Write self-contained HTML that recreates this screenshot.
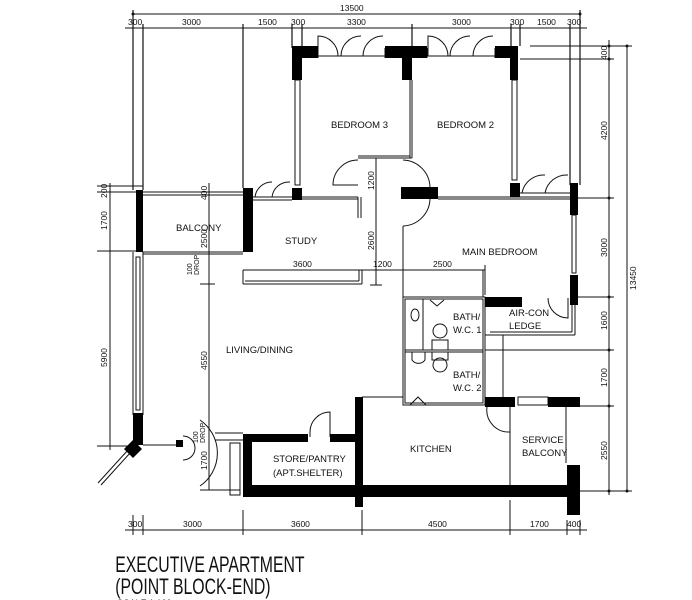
<!DOCTYPE html>
<html><head><meta charset="utf-8"><style>
html,body{margin:0;padding:0;background:#fff;width:692px;height:600px;overflow:hidden}
svg text{font-family:"Liberation Sans",sans-serif;fill:#111}
</style></head><body>
<svg width="692" height="600" viewBox="0 0 692 600" xmlns="http://www.w3.org/2000/svg">
<g stroke="#111" stroke-width="1" fill="none">
<line x1="133" y1="14" x2="580" y2="14"/>
<line x1="125" y1="28" x2="587" y2="28"/>
<g stroke-width="1.2">
<line x1="133" y1="10" x2="133" y2="190"/><line x1="143" y1="24" x2="143" y2="190"/>
<line x1="243" y1="24" x2="243" y2="188"/><line x1="292" y1="24" x2="292" y2="48"/>
<line x1="302" y1="24" x2="302" y2="48"/><line x1="412" y1="24" x2="412" y2="46"/>
<line x1="511" y1="24" x2="511" y2="46"/><line x1="520" y1="24" x2="520" y2="46"/>
<line x1="570" y1="24" x2="570" y2="185"/><line x1="580" y1="10" x2="580" y2="185"/>
</g>
<line x1="609" y1="40" x2="609" y2="495"/>
<line x1="627" y1="46" x2="627" y2="491"/>
<line x1="530" y1="46" x2="632" y2="46"/><line x1="520" y1="59" x2="614" y2="59"/>
<line x1="578" y1="198" x2="614" y2="198"/><line x1="578" y1="297" x2="614" y2="297"/>
<line x1="485" y1="350" x2="614" y2="350"/><line x1="580" y1="406" x2="614" y2="406"/>
<line x1="580" y1="491" x2="632" y2="491"/>
<line x1="110" y1="183" x2="110" y2="450"/>
<line x1="97" y1="186" x2="143" y2="186"/><line x1="97" y1="192" x2="245" y2="192"/>
<line x1="97" y1="251" x2="136" y2="251"/><line x1="97" y1="446" x2="133" y2="446"/>
<line x1="209" y1="183" x2="209" y2="490"/>
<line x1="200" y1="284" x2="215" y2="284"/><line x1="200" y1="490" x2="240" y2="490"/>
<line x1="125" y1="530" x2="587" y2="530"/>
<line x1="133" y1="515" x2="133" y2="535"/><line x1="143" y1="515" x2="143" y2="535"/>
<line x1="243" y1="510" x2="243" y2="535"/><line x1="362" y1="510" x2="362" y2="535"/>
<line x1="510" y1="500" x2="510" y2="535"/><line x1="567" y1="520" x2="567" y2="535"/>
<line x1="580" y1="520" x2="580" y2="535"/>
<line x1="376" y1="158" x2="376" y2="285"/><line x1="243" y1="270" x2="485" y2="270"/>
<line x1="370" y1="285" x2="382" y2="285"/><line x1="485" y1="265" x2="485" y2="295"/>
<line x1="143" y1="195" x2="243" y2="195"/><line x1="143" y1="252" x2="243" y2="252"/>
<line x1="143" y1="254" x2="243" y2="254"/>
<line x1="133" y1="252" x2="133" y2="415"/><line x1="143" y1="252" x2="143" y2="415"/>
<rect x="136" y="257" width="4" height="153"/>
<line x1="128" y1="450" x2="98" y2="483"/><line x1="131" y1="452" x2="101" y2="485"/>
<line x1="143" y1="445" x2="178" y2="445"/>
<path d="M183 436 A12 12 0 0 1 183 460"/><path d="M200 420 A40 40 0 0 1 200 486" />
<line x1="215" y1="433" x2="243" y2="433"/><line x1="215" y1="440" x2="243" y2="440"/>
<rect x="230" y="443" width="10" height="52"/>
<rect x="295" y="80" width="5" height="105"/>
<rect x="512" y="80" width="5" height="100"/>
<line x1="410" y1="80" x2="410" y2="158"/><line x1="412" y1="80" x2="412" y2="158"/>
<line x1="358" y1="158" x2="412" y2="158"/><line x1="358" y1="156" x2="410" y2="156"/>
<path d="M358 160 A25 25 0 0 0 333 185 L358 185"/>
<path d="M403 160 A28 28 0 0 1 430 187"/>
<path d="M403 226 A28 28 0 0 0 430 199"/>
<line x1="318" y1="48" x2="318" y2="58"/><line x1="385" y1="48" x2="385" y2="58"/>
<line x1="318" y1="56" x2="385" y2="56"/>
<path d="M318 56 L318 36 A20 20 0 0 1 338 56 M341 56 A20 20 0 0 1 361 36 M363 56 A20 20 0 0 1 383 36"/>
<line x1="427" y1="56" x2="495" y2="56"/><line x1="427" y1="48" x2="427" y2="58"/><line x1="495" y1="48" x2="495" y2="58"/>
<path d="M428 56 L428 36 A20 20 0 0 1 448 56 M450 56 A20 20 0 0 1 470 36 M473 56 A20 20 0 0 1 493 36"/>
<line x1="520" y1="193" x2="570" y2="193"/><line x1="520" y1="197" x2="570" y2="197"/>
<path d="M522 193 A22 22 0 0 1 545 175 M545 193 A22 22 0 0 1 568 175"/>
<line x1="253" y1="197" x2="292" y2="197"/><line x1="253" y1="200" x2="292" y2="200"/>
<path d="M255 197 A17 17 0 0 1 272 182 M272 197 A17 17 0 0 1 290 182"/>
<line x1="302" y1="197" x2="358" y2="197"/><line x1="302" y1="199" x2="358" y2="199"/>
<line x1="358" y1="197" x2="358" y2="218"/><line x1="361" y1="197" x2="361" y2="218"/>
<line x1="243" y1="270" x2="243" y2="284"/><line x1="243" y1="284" x2="362" y2="284"/>
<line x1="245" y1="281" x2="359" y2="281"/><line x1="359" y1="270" x2="359" y2="281"/><line x1="362" y1="270" x2="362" y2="284"/>
<line x1="438" y1="197" x2="570" y2="197"/><line x1="438" y1="199" x2="570" y2="199"/>
<line x1="403" y1="226" x2="403" y2="297"/>
<rect x="572" y="215" width="4" height="58"/>
<line x1="483" y1="270" x2="483" y2="297"/>
<rect x="403" y="297" width="82" height="108"/>
<rect x="405" y="299" width="78" height="104"/>
<line x1="423" y1="299" x2="423" y2="350"/><line x1="405" y1="350" x2="483" y2="350"/><line x1="405" y1="352" x2="483" y2="352"/>
<ellipse cx="415" cy="315" rx="4" ry="6"/><ellipse cx="440" cy="331" rx="7" ry="7"/><rect x="432" y="340" width="16" height="10"/>
<ellipse cx="440" cy="365" rx="7" ry="7"/><rect x="432" y="352" width="16" height="8"/>
<path d="M412 352 L412 360 A8 8 0 0 0 425 360 L425 352"/>
<path d="M410 405 L418 397 L426 405 M430 300 L437 306 L444 300"/>
<line x1="485" y1="335" x2="575" y2="335"/><line x1="490" y1="332" x2="572" y2="332"/>
<line x1="575" y1="305" x2="575" y2="335"/><line x1="572" y1="305" x2="572" y2="332"/>
<line x1="503" y1="335" x2="503" y2="397"/>
<path d="M568 298 L568 318 A20 20 0 0 1 548 298"/>
<line x1="485" y1="350" x2="580" y2="350"/>
<line x1="362" y1="397" x2="403" y2="397"/>
<path d="M487 407 A22 22 0 0 0 510 432"/>
<line x1="510" y1="407" x2="510" y2="485"/>
<rect x="518" y="397" width="30" height="8"/>
<line x1="566" y1="407" x2="566" y2="463"/>
<path d="M310 437 L310 432 A20 20 0 0 1 330 412 L330 437"/>
</g>
<g fill="#111">
<circle cx="133" cy="14" r="1.5"/><circle cx="580" cy="14" r="1.5"/>
<circle cx="609" cy="46" r="1.5"/><circle cx="609" cy="59" r="1.5"/><circle cx="609" cy="198" r="1.5"/>
<circle cx="609" cy="297" r="1.5"/><circle cx="609" cy="350" r="1.5"/><circle cx="609" cy="406" r="1.5"/><circle cx="609" cy="491" r="1.5"/>
<circle cx="627" cy="46" r="1.5"/><circle cx="627" cy="491" r="1.5"/>
</g>
<g fill="#000">
<rect x="292" y="46" width="26" height="12"/><rect x="385" y="46" width="42" height="12"/><rect x="495" y="46" width="23" height="12"/>
<rect x="292" y="46" width="10" height="34"/><rect x="402" y="46" width="10" height="34"/><rect x="510" y="46" width="8" height="34"/>
<rect x="292" y="188" width="10" height="12"/><rect x="510" y="183" width="10" height="14"/>
<rect x="401" y="187" width="37" height="12"/>
<rect x="570" y="183" width="8" height="32"/><rect x="570" y="275" width="8" height="30"/>
<rect x="136" y="190" width="7" height="62"/><rect x="243" y="188" width="10" height="64"/>
<rect x="133" y="413" width="10" height="32"/>
<path d="M124 449 L133 440 L142 449 L133 458 Z"/>
<rect x="176" y="440" width="7" height="7"/>
<rect x="243" y="434" width="9" height="63"/><rect x="243" y="434" width="65" height="8"/><rect x="330" y="434" width="30" height="8"/>
<rect x="355" y="397" width="8" height="110"/>
<rect x="243" y="485" width="337" height="12"/>
<rect x="485" y="297" width="37" height="10"/>
<rect x="485" y="397" width="30" height="10"/><rect x="548" y="397" width="32" height="10"/>
<rect x="567" y="397" width="13" height="10"/><rect x="567" y="465" width="13" height="50"/>
</g>
<g font-size="8.5">
<text x="340" y="11">13500</text>
<text x="128" y="25">300</text><text x="182" y="25">3000</text><text x="258" y="25">1500</text><text x="291" y="25">300</text>
<text x="347" y="25">3300</text><text x="452" y="25">3000</text><text x="510" y="25">300</text><text x="537" y="25">1500</text><text x="567" y="25">300</text>
<text x="128" y="527">300</text><text x="183" y="527">3000</text><text x="291" y="527">3600</text><text x="428" y="527">4500</text><text x="530" y="527">1700</text><text x="567" y="527">400</text>
</g>
<g font-size="8.5">
<text transform="translate(607,60) rotate(-90)">400</text>
<text transform="translate(607,140) rotate(-90)">4200</text>
<text transform="translate(607,257) rotate(-90)">3000</text>
<text transform="translate(607,330) rotate(-90)">1600</text>
<text transform="translate(607,387) rotate(-90)">1700</text>
<text transform="translate(607,460) rotate(-90)">2550</text>
<text transform="translate(636,290) rotate(-90)">13450</text>
<text transform="translate(107,198) rotate(-90)">200</text>
<text transform="translate(107,230) rotate(-90)">1700</text>
<text transform="translate(107,367) rotate(-90)">5900</text>
<text transform="translate(207,370) rotate(-90)">4550</text>
<text transform="translate(207,248) rotate(-90)">2500</text>
<text transform="translate(207,200) rotate(-90)">400</text>
<text transform="translate(207,470) rotate(-90)">1700</text>
<text transform="translate(374,190) rotate(-90)">1200</text>
<text transform="translate(374,250) rotate(-90)">2600</text>
<text transform="translate(192,275) rotate(-90)" font-size="7">100</text>
<text transform="translate(199,275) rotate(-90)" font-size="7">DROP</text>
<text transform="translate(198,443) rotate(-90)" font-size="7">100</text>
<text transform="translate(205,443) rotate(-90)" font-size="7">DROP</text>
<text x="293" y="267">3600</text><text x="373" y="267">1200</text><text x="433" y="267">2500</text>
</g>
<g font-size="9.5">
<text x="331" y="128">BEDROOM 3</text><text x="437" y="128">BEDROOM 2</text>
<text x="176" y="231">BALCONY</text><text x="285" y="244">STUDY</text>
<text x="462" y="255">MAIN BEDROOM</text>
<text x="226" y="353">LIVING/DINING</text>
<text x="453" y="320">BATH/</text><text x="453" y="333">W.C. 1</text>
<text x="453" y="378">BATH/</text><text x="453" y="391">W.C. 2</text>
<text x="509" y="316">AIR-CON</text><text x="509" y="329">LEDGE</text>
<text x="410" y="452">KITCHEN</text>
<text x="522" y="443">SERVICE</text><text x="522" y="456">BALCONY</text>
<text x="273" y="462">STORE/PANTRY</text><text x="273" y="476">(APT.SHELTER)</text>
</g>
<g font-size="22" transform="scale(0.72,1)">
<text x="160" y="572">EXECUTIVE APARTMENT</text>
<text x="160" y="594">(POINT BLOCK-END)</text>
</g>
<text x="117" y="606" font-size="9">SCALE 1:100</text>
</svg>
</body></html>
